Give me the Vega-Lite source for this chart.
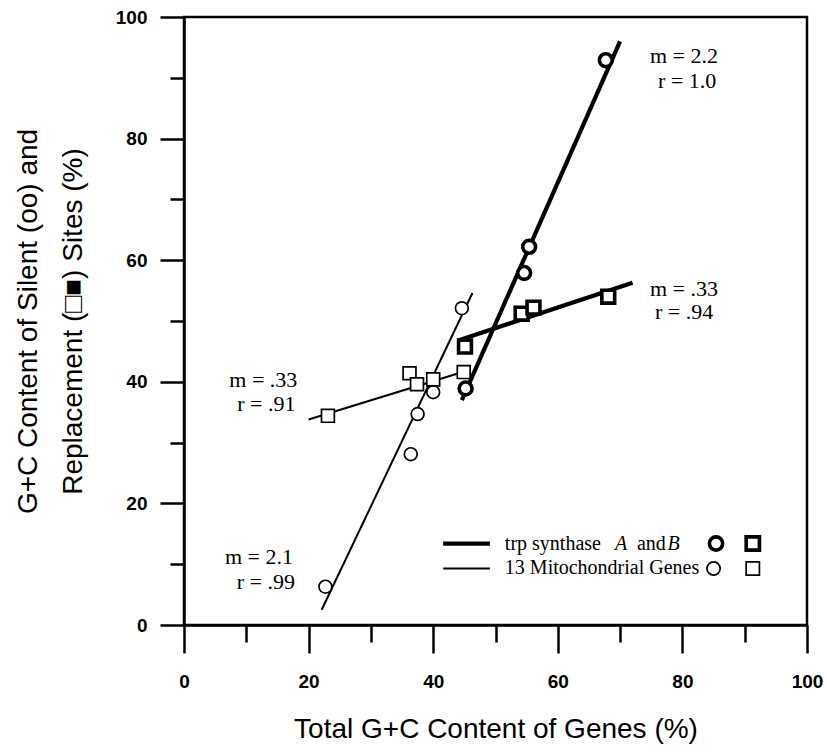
{
  "$schema": "https://vega.github.io/schema/vega-lite/v6.json",
  "width": 623,
  "height": 608,
  "autosize": "none",
  "padding": {"left": 184, "top": 17, "right": 20, "bottom": 127},
  "background": "white",
  "config": {
    "view": {"stroke": "black", "strokeWidth": 2.5},
    "axis": {"grid": false, "domainColor": "black", "domainWidth": 2.5, "tickColor": "black", "tickWidth": 2.5, "labelColor": "black", "titleColor": "black", "labelFont": "Liberation Sans", "labelFontWeight": "bold", "labelFontSize": 19, "titleFont": "Liberation Sans", "titleFontWeight": "normal", "titleFontSize": 28}
  },
  "datasets": {
    "points": [
      {"set": "trp", "site": "silent", "x": 45.2, "y": 38.9},
      {"set": "trp", "site": "silent", "x": 54.6, "y": 57.9},
      {"set": "trp", "site": "silent", "x": 55.4, "y": 62.2},
      {"set": "trp", "site": "silent", "x": 67.7, "y": 92.9},
      {"set": "trp", "site": "replacement", "x": 45.1, "y": 45.8},
      {"set": "trp", "site": "replacement", "x": 54.2, "y": 51.2},
      {"set": "trp", "site": "replacement", "x": 56.1, "y": 52.2},
      {"set": "trp", "site": "replacement", "x": 68.1, "y": 54.0},
      {"set": "mito", "site": "silent", "x": 22.7, "y": 6.3},
      {"set": "mito", "site": "silent", "x": 36.4, "y": 28.1},
      {"set": "mito", "site": "silent", "x": 37.5, "y": 34.7},
      {"set": "mito", "site": "silent", "x": 40.0, "y": 38.3},
      {"set": "mito", "site": "silent", "x": 44.6, "y": 52.1},
      {"set": "mito", "site": "replacement", "x": 23.1, "y": 34.4},
      {"set": "mito", "site": "replacement", "x": 36.2, "y": 41.4},
      {"set": "mito", "site": "replacement", "x": 37.4, "y": 39.6},
      {"set": "mito", "site": "replacement", "x": 40.0, "y": 40.4},
      {"set": "mito", "site": "replacement", "x": 44.9, "y": 41.6}
    ],
    "fits": [
      {"line": "mito-silent", "set": "mito", "x": 22.1, "y": 2.5},
      {"line": "mito-silent", "set": "mito", "x": 46.3, "y": 54.6},
      {"line": "mito-replacement", "set": "mito", "x": 20.0, "y": 33.8},
      {"line": "mito-replacement", "set": "mito", "x": 45.0, "y": 41.7},
      {"line": "trp-silent", "set": "trp", "x": 44.6, "y": 37.0},
      {"line": "trp-silent", "set": "trp", "x": 70.0, "y": 96.0},
      {"line": "trp-replacement", "set": "trp", "x": 44.0, "y": 46.8},
      {"line": "trp-replacement", "set": "trp", "x": 72.0, "y": 56.3}
    ],
    "notesLeft": [
      {"label": "m = .33", "x": 18.2, "y": 40.3},
      {"label": "r = .91", "x": 17.9, "y": 36.4},
      {"label": "m = 2.1", "x": 17.5, "y": 11.2},
      {"label": "r =  .99", "x": 17.8, "y": 7.0}
    ],
    "notesRight": [
      {"label": "m = 2.2", "x": 74.8, "y": 93.6},
      {"label": "r = 1.0", "x": 76.1, "y": 89.5},
      {"label": "m = .33", "x": 74.8, "y": 55.3},
      {"label": "r = .94", "x": 75.6, "y": 51.4}
    ],
    "legendLines": [
      {"set": "trp", "x": 41.6, "x2": 49.1, "y": 13.4},
      {"set": "mito", "x": 41.6, "x2": 49.1, "y": 9.3}
    ],
    "legendText": [
      {"label": "trp synthase", "x": 51.5, "y": 13.4},
      {"label": "and", "x": 72.7, "y": 13.4},
      {"label": "13 Mitochondrial Genes", "x": 51.5, "y": 9.3}
    ],
    "legendItalic": [
      {"label": "A", "x": 69.2, "y": 13.4},
      {"label": "B", "x": 77.6, "y": 13.4}
    ],
    "legendMarks": [
      {"set": "trp", "site": "silent", "x": 85.4, "y": 13.4},
      {"set": "trp", "site": "replacement", "x": 91.3, "y": 13.4},
      {"set": "mito", "site": "silent", "x": 85.0, "y": 9.3},
      {"set": "mito", "site": "replacement", "x": 91.3, "y": 9.3}
    ]
  },
  "layer": [
    {
      "data": {"name": "fits"},
      "mark": {"type": "line", "color": "black", "strokeCap": "butt"},
      "encoding": {
        "x": {
          "field": "x", "type": "quantitative",
          "scale": {"domain": [0, 100], "nice": false, "zero": false},
          "axis": {
            "values": [0, 5, 10, 15, 20, 25, 30, 35, 40, 45, 50, 55, 60, 65, 70, 75, 80, 85, 90, 95, 100],
            "labelExpr": "datum.value % 20 === 0 ? datum.label : ''",
            "tickSize": {"condition": {"test": "datum.value % 20 === 0", "value": 28}, "value": 17},
            "labelPadding": 19,
            "labelFlush": false,
            "labelOverlap": false,
            "title": "Total G+C Content of Genes  (%)",
            "titlePadding": 24
          }
        },
        "y": {
          "field": "y", "type": "quantitative",
          "scale": {"domain": [0, 100], "nice": false, "zero": false},
          "axis": {
            "values": [0, 5, 10, 15, 20, 25, 30, 35, 40, 45, 50, 55, 60, 65, 70, 75, 80, 85, 90, 95, 100],
            "labelExpr": "datum.value % 20 === 0 ? datum.label : ''",
            "tickSize": {"condition": {"test": "datum.value % 20 === 0", "value": 24}, "value": 14},
            "labelPadding": 13,
            "labelFlush": false,
            "labelOverlap": false,
            "title": ["G+C Content of Silent (oo) and", "Replacement (□■) Sites (%)"],
            "titleLineHeight": 45,
            "titlePadding": 28
          }
        },
        "detail": {"field": "line"},
        "strokeWidth": {"field": "set", "type": "nominal", "scale": {"domain": ["trp", "mito"], "range": [4.2, 2]}, "legend": null}
      }
    },
    {
      "data": {"name": "legendLines"},
      "mark": {"type": "rule", "color": "black"},
      "encoding": {
        "x": {"field": "x", "type": "quantitative"},
        "x2": {"field": "x2"},
        "y": {"field": "y", "type": "quantitative"},
        "strokeWidth": {"field": "set", "type": "nominal", "scale": {"domain": ["trp", "mito"], "range": [4.2, 2]}, "legend": null}
      }
    },
    {
      "data": {"name": "points"},
      "mark": {"type": "point", "filled": false, "fill": "white", "fillOpacity": 1, "color": "black", "size": 165, "opacity": 1},
      "encoding": {
        "x": {"field": "x", "type": "quantitative"},
        "y": {"field": "y", "type": "quantitative"},
        "shape": {"field": "site", "type": "nominal", "scale": {"domain": ["silent", "replacement"], "range": ["circle", "square"]}, "legend": null},
        "strokeWidth": {"field": "set", "type": "nominal", "scale": {"domain": ["trp", "mito"], "range": [3.6, 1.7]}, "legend": null}
      }
    },
    {
      "data": {"name": "legendMarks"},
      "mark": {"type": "point", "filled": false, "fill": "white", "fillOpacity": 1, "color": "black", "size": 175, "opacity": 1},
      "encoding": {
        "x": {"field": "x", "type": "quantitative"},
        "y": {"field": "y", "type": "quantitative"},
        "shape": {"field": "site", "type": "nominal", "scale": {"domain": ["silent", "replacement"], "range": ["circle", "square"]}, "legend": null},
        "strokeWidth": {"field": "set", "type": "nominal", "scale": {"domain": ["trp", "mito"], "range": [3.6, 1.7]}, "legend": null}
      }
    },
    {
      "data": {"name": "notesLeft"},
      "mark": {"type": "text", "align": "right", "baseline": "middle", "font": "Liberation Serif", "fontSize": 22, "color": "black"},
      "encoding": {
        "x": {"field": "x", "type": "quantitative"},
        "y": {"field": "y", "type": "quantitative"},
        "text": {"field": "label"}
      }
    },
    {
      "data": {"name": "notesRight"},
      "mark": {"type": "text", "align": "left", "baseline": "middle", "font": "Liberation Serif", "fontSize": 22, "color": "black"},
      "encoding": {
        "x": {"field": "x", "type": "quantitative"},
        "y": {"field": "y", "type": "quantitative"},
        "text": {"field": "label"}
      }
    },
    {
      "data": {"name": "legendText"},
      "mark": {"type": "text", "align": "left", "baseline": "middle", "font": "Liberation Serif", "fontSize": 20, "color": "black"},
      "encoding": {
        "x": {"field": "x", "type": "quantitative"},
        "y": {"field": "y", "type": "quantitative"},
        "text": {"field": "label"}
      }
    },
    {
      "data": {"name": "legendItalic"},
      "mark": {"type": "text", "align": "left", "baseline": "middle", "font": "Liberation Serif", "fontStyle": "italic", "fontSize": 20, "color": "black"},
      "encoding": {
        "x": {"field": "x", "type": "quantitative"},
        "y": {"field": "y", "type": "quantitative"},
        "text": {"field": "label"}
      }
    }
  ],
  "resolve": {"scale": {"strokeWidth": "independent"}}
}
